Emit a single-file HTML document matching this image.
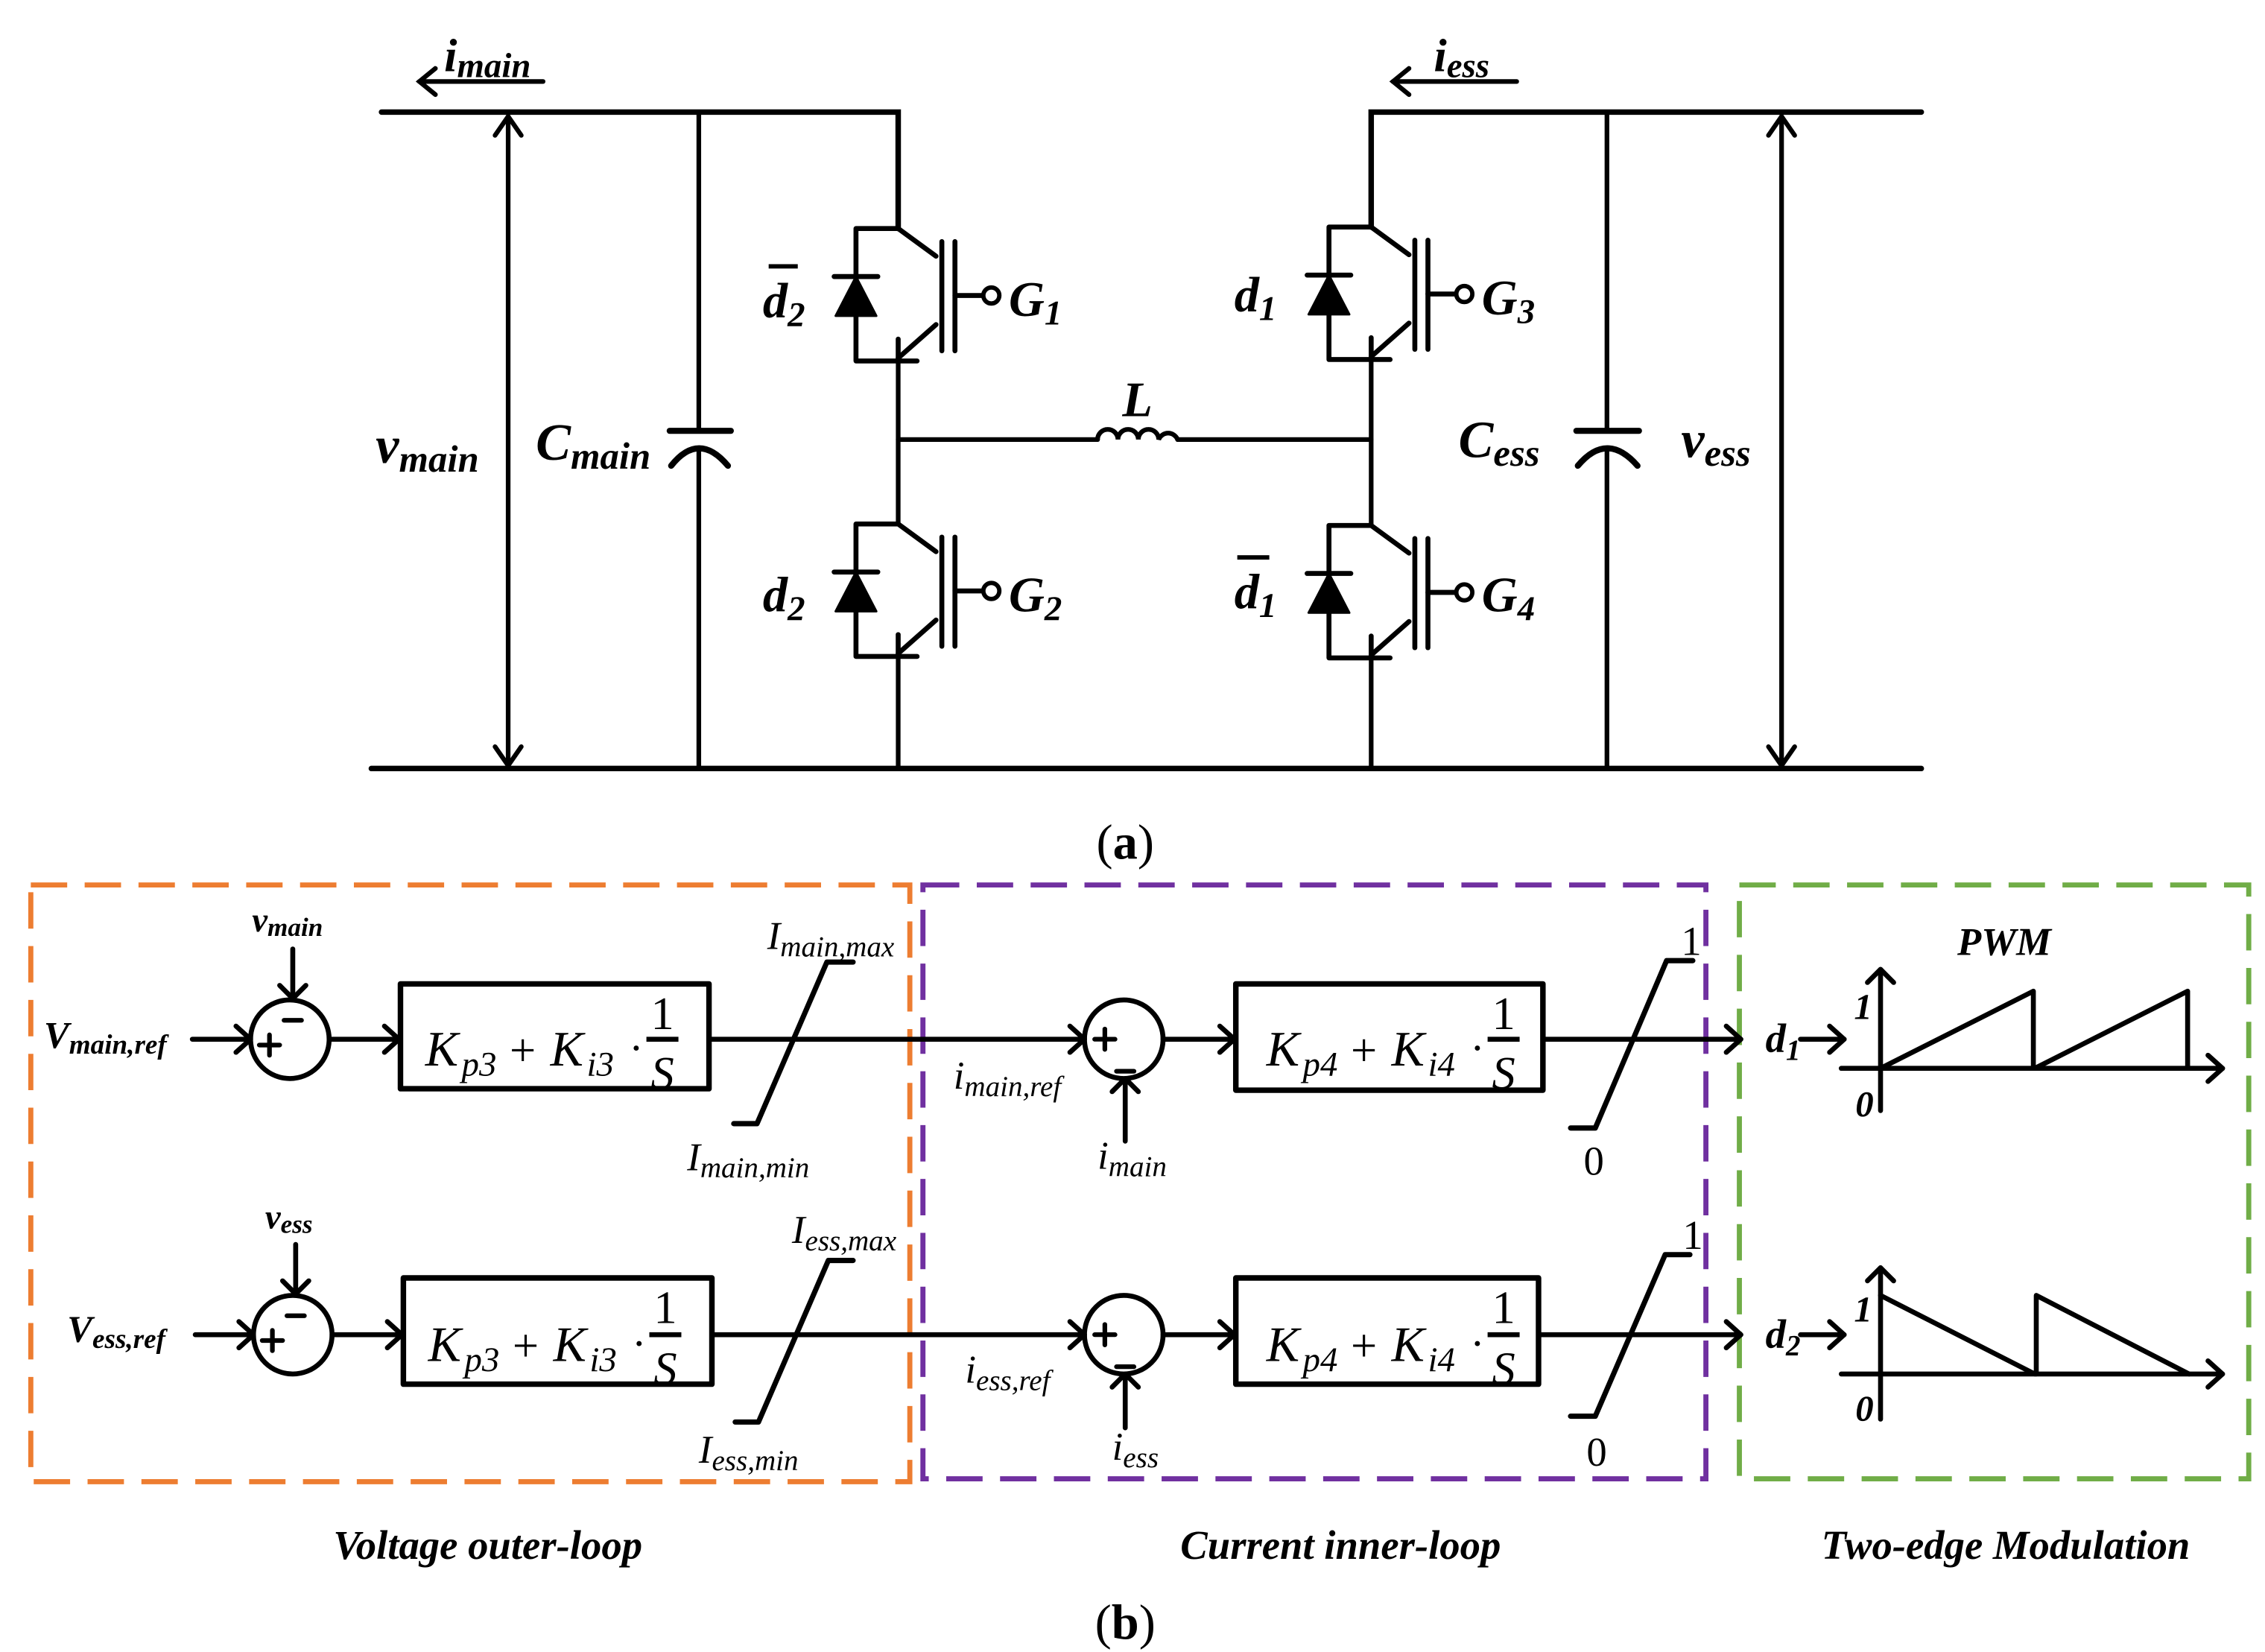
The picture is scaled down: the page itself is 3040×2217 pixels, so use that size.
<!DOCTYPE html>
<html><head><meta charset="utf-8"><style>
html,body{margin:0;padding:0;background:#fff;}
svg{display:block;}
text{font-family:"Liberation Serif",serif;fill:#000;}
.it{font-style:italic;font-weight:bold;}
.m{font-style:italic;}
</style></head><body>
<svg width="3040" height="2217" viewBox="0 0 1556 1135" xmlns="http://www.w3.org/2000/svg">
<defs>
<g id="igbt" fill="none" stroke="#000" stroke-width="3.4" stroke-linecap="round" stroke-linejoin="round">
  <path d="M0,0 L-29,0 L-29,91 L13,91"/>
  <path d="M0,0 L26,19"/>
  <path d="M26,66 L0,89"/>
  <path d="M0,76 L0,91"/>
  <path d="M30,9 L30,84"/>
  <path d="M39,9 L39,84"/>
  <path d="M39,46 L58,46"/>
  <circle cx="64" cy="46" r="5.5" stroke-width="3"/>
  <path d="M-44,33 L-14,33"/>
  <path d="M-29,33 L-43,60 L-15,60 Z" fill="#000" stroke-width="1.5"/>
</g>
<g id="kblk3" class="m">
  <text x="0" y="0" font-size="34">K</text>
  <text x="25" y="7" font-size="24">p3</text>
  <text x="58" y="0" font-size="32" font-style="normal">+</text>
  <text x="86" y="0" font-size="34">K</text>
  <text x="111" y="7" font-size="24">i3</text>
  <text x="140" y="-2" font-size="30" font-style="normal">·</text>
</g>
<g id="kblk4" class="m">
  <text x="0" y="0" font-size="34">K</text>
  <text x="25" y="7" font-size="24">p4</text>
  <text x="58" y="0" font-size="32" font-style="normal">+</text>
  <text x="86" y="0" font-size="34">K</text>
  <text x="111" y="7" font-size="24">i4</text>
  <text x="140" y="-2" font-size="30" font-style="normal">·</text>
</g>
</defs>

<!-- ===== (a) circuit ===== -->
<g fill="none" stroke="#000" stroke-width="3.8" stroke-linecap="round">
  <path d="M262,77 L617,77 L617,157"/>
  <path d="M942,156 L942,77 L1320,77"/>
  <path d="M255,528 L1320,528"/>
</g>
<g fill="none" stroke="#000" stroke-width="3.2" stroke-linecap="round">
  <path d="M617,248 L617,360"/>
  <path d="M617,451 L617,528"/>
  <path d="M942,247 L942,361"/>
  <path d="M942,452 L942,528"/>
  <path d="M617,302 L754,302"/>
  <path d="M754,302 a7,7 0 0 1 14,0 a7,7 0 0 1 14,0 a7,7 0 0 1 14,0 a7,7 0 0 1 13,0"/>
  <path d="M809,302 L942,302"/>
  <path d="M480,77 L480,296"/>
  <path d="M460,296 L502,296" stroke-width="4.2"/>
  <path d="M461,320 Q480,296 500,320" stroke-width="4.2"/>
  <path d="M480,309 L480,528"/>
  <path d="M1104,77 L1104,296"/>
  <path d="M1083,296 L1126,296" stroke-width="4.2"/>
  <path d="M1084,320 Q1104,296 1125,320" stroke-width="4.2"/>
  <path d="M1104,309 L1104,528"/>
  <path d="M349,80 L349,526"/>
  <path d="M340,93 L349,80 L358,93"/>
  <path d="M340,513 L349,526 L358,513"/>
  <path d="M1224,80 L1224,526"/>
  <path d="M1215,93 L1224,80 L1233,93"/>
  <path d="M1215,513 L1224,526 L1233,513"/>
  <path d="M288,56 L373,56"/>
  <path d="M299,47 L288,56 L299,65"/>
  <path d="M957,56 L1042,56"/>
  <path d="M968,47 L957,56 L968,65"/>
</g>
<use href="#igbt" x="617" y="157"/>
<use href="#igbt" x="617" y="360"/>
<use href="#igbt" x="942" y="156"/>
<use href="#igbt" x="942" y="361"/>

<g class="it">
  <text x="305" y="49" font-size="32">i<tspan font-size="24" dy="4">main</tspan></text>
  <text x="985" y="49" font-size="32">i<tspan font-size="24" dy="4">ess</tspan></text>
  <text x="258" y="318" font-size="36">v<tspan font-size="26" dy="6">main</tspan></text>
  <text x="368" y="316" font-size="36">C<tspan font-size="26" dy="6">main</tspan></text>
  <text x="1002" y="314" font-size="36">C<tspan font-size="26" dy="6">ess</tspan></text>
  <text x="1155" y="314" font-size="36">v<tspan font-size="26" dy="6">ess</tspan></text>
  <text x="771" y="286" font-size="34">L</text>
  <text x="524" y="218" font-size="34">d<tspan font-size="24" dy="6">2</tspan></text>
  <text x="524" y="420" font-size="34">d<tspan font-size="24" dy="6">2</tspan></text>
  <text x="848" y="214" font-size="34">d<tspan font-size="24" dy="6">1</tspan></text>
  <text x="848" y="418" font-size="34">d<tspan font-size="24" dy="6">1</tspan></text>
  <text x="693" y="217" font-size="34">G<tspan font-size="24" dy="6">1</tspan></text>
  <text x="693" y="420" font-size="34">G<tspan font-size="24" dy="6">2</tspan></text>
  <text x="1018" y="216" font-size="34">G<tspan font-size="24" dy="6">3</tspan></text>
  <text x="1018" y="420" font-size="34">G<tspan font-size="24" dy="6">4</tspan></text>
</g>
<g stroke="#000" stroke-width="3">
  <path d="M528,183 L548,183"/>
  <path d="M850,383 L872,383"/>
</g>
<text x="773" y="590" font-size="34" text-anchor="middle">(<tspan font-weight="bold">a</tspan>)</text>

<!-- ===== (b) control ===== -->
<g fill="none" stroke-width="3.5" stroke-dasharray="25,12">
  <rect x="21" y="608" width="604" height="410" stroke="#ED7D31"/>
  <rect x="634" y="608" width="538" height="408" stroke="#7030A0"/>
  <rect x="1195" y="608" width="350" height="408" stroke="#70AD47"/>
</g>

<g fill="none" stroke="#000" stroke-width="3.4" stroke-linecap="round" stroke-linejoin="round">
  <path d="M132,714 L172,714"/><path d="M162,705 L172,714 L162,723"/>
  <circle cx="199" cy="714" r="27"/>
  <path d="M201,652 L201,686"/><path d="M192,677 L201,686 L210,677"/>
  <path d="M226,714 L274,714"/><path d="M264,705 L274,714 L264,723"/>
  <rect x="275" y="676" width="212" height="72" stroke-width="3.8"/>
  <path d="M487,714 L745,714"/><path d="M735,705 L745,714 L735,723"/>
  <path d="M504,772 L520,772 L568,661 L586,661" stroke-width="3.6"/>
  <circle cx="772" cy="714" r="27"/>
  <path d="M773,784 L773,741"/><path d="M764,750 L773,741 L782,750"/>
  <path d="M799,714 L848,714"/><path d="M838,705 L848,714 L838,723"/>
  <rect x="849" y="676" width="211" height="73" stroke-width="3.8"/>
  <path d="M1060,714 L1196,714"/><path d="M1186,705 L1196,714 L1186,723"/>
  <path d="M1079,775 L1096,775 L1145,660 L1163,660" stroke-width="3.6"/>
  <path d="M134,917 L174,917"/><path d="M164,908 L174,917 L164,926"/>
  <circle cx="201" cy="917" r="27"/>
  <path d="M203,855 L203,889"/><path d="M194,880 L203,889 L212,880"/>
  <path d="M228,917 L276,917"/><path d="M266,908 L276,917 L266,926"/>
  <rect x="277" y="878" width="212" height="73" stroke-width="3.8"/>
  <path d="M489,917 L745,917"/><path d="M735,908 L745,917 L735,926"/>
  <path d="M505,977 L521,977 L569,866 L586,866" stroke-width="3.6"/>
  <circle cx="772" cy="917" r="27"/>
  <path d="M773,981 L773,944"/><path d="M764,953 L773,944 L782,953"/>
  <path d="M799,917 L848,917"/><path d="M838,908 L848,917 L838,926"/>
  <rect x="849" y="878" width="208" height="73" stroke-width="3.8"/>
  <path d="M1057,917 L1196,917"/><path d="M1186,908 L1196,917 L1186,926"/>
  <path d="M1079,973 L1096,973 L1144,862 L1161,862" stroke-width="3.6"/>
  <path d="M1237,714 L1267,714"/><path d="M1257,705 L1267,714 L1257,723"/>
  <path d="M1292,763 L1292,666"/><path d="M1283,675 L1292,666 L1301,675"/>
  <path d="M1265,734 L1527,734"/><path d="M1517,725 L1527,734 L1517,743"/>
  <path d="M1292,734 L1397,681 L1397,734"/>
  <path d="M1398,734 L1503,681 L1503,734"/>
  <path d="M1237,917 L1267,917"/><path d="M1257,908 L1267,917 L1257,926"/>
  <path d="M1292,975 L1292,871"/><path d="M1283,880 L1292,871 L1301,880"/>
  <path d="M1265,944 L1527,944"/><path d="M1517,935 L1527,944 L1517,953"/>
  <path d="M1292,890 L1398,944"/>
  <path d="M1399,944 L1399,890 L1504,944"/>
</g>
<g stroke="#000" stroke-width="3.2" stroke-linecap="round">
  <path d="M178,718 L192,718 M185,711 L185,725"/><path d="M195,701 L207,701"/>
  <path d="M180,921 L194,921 M187,914 L187,928"/><path d="M197,904 L209,904"/>
  <path d="M752,714 L766,714 M759,707 L759,721"/><path d="M767,736 L779,736"/>
  <path d="M752,917 L766,917 M759,910 L759,924"/><path d="M767,939 L779,939"/>
</g>

<use href="#kblk3" x="292" y="732"/>
<use href="#kblk3" x="294" y="935"/>
<use href="#kblk4" x="870" y="732"/>
<use href="#kblk4" x="870" y="935"/>
<g font-size="32" text-anchor="middle">
  <text x="455" y="707">1</text><text x="455" y="748" font-style="italic">S</text>
  <text x="457" y="909">1</text><text x="457" y="951" font-style="italic">S</text>
  <text x="1033" y="707">1</text><text x="1033" y="748" font-style="italic">S</text>
  <text x="1033" y="909">1</text><text x="1033" y="951" font-style="italic">S</text>
</g>
<g stroke="#000" stroke-width="3.4">
  <path d="M444,714 L466,714"/><path d="M446,917 L468,917"/>
  <path d="M1022,714 L1044,714"/><path d="M1022,917 L1044,917"/>
</g>

<g class="it">
  <text x="30" y="720" font-size="26">V<tspan font-size="19" dy="4">main,ref</tspan></text>
  <text x="46" y="922" font-size="26">V<tspan font-size="19" dy="4">ess,ref</tspan></text>
  <text x="173" y="640" font-size="24">v<tspan font-size="18" dy="3">main</tspan></text>
  <text x="182" y="844" font-size="24">v<tspan font-size="18" dy="3">ess</tspan></text>
</g>
<g class="m">
  <text x="527" y="652" font-size="27">I<tspan font-size="20" dy="5">main,max</tspan></text>
  <text x="472" y="804" font-size="27">I<tspan font-size="20" dy="5">main,min</tspan></text>
  <text x="544" y="854" font-size="27">I<tspan font-size="20" dy="5">ess,max</tspan></text>
  <text x="480" y="1005" font-size="27">I<tspan font-size="20" dy="5">ess,min</tspan></text>
  <text x="655" y="748" font-size="27">i<tspan font-size="20" dy="5">main,ref</tspan></text>
  <text x="663" y="950" font-size="27">i<tspan font-size="20" dy="5">ess,ref</tspan></text>
  <text x="754" y="803" font-size="27">i<tspan font-size="20" dy="5">main</tspan></text>
  <text x="764" y="1003" font-size="27">i<tspan font-size="20" dy="5">ess</tspan></text>
</g>
<g font-size="28" text-anchor="middle">
  <text x="1162" y="656">1</text><text x="1095" y="807">0</text>
  <text x="1163" y="858">1</text><text x="1097" y="1007">0</text>
</g>
<g class="it">
  <text x="1213" y="723" font-size="28">d<tspan font-size="20" dy="5">1</tspan></text>
  <text x="1213" y="926" font-size="28">d<tspan font-size="20" dy="5">2</tspan></text>
  <text x="1377" y="656" font-size="27" text-anchor="middle">PWM</text>
  <text x="1280" y="700" font-size="25" text-anchor="middle">1</text>
  <text x="1281" y="767" font-size="25" text-anchor="middle">0</text>
  <text x="1280" y="908" font-size="25" text-anchor="middle">1</text>
  <text x="1281" y="976" font-size="25" text-anchor="middle">0</text>
</g>
<g class="it" font-size="28" text-anchor="middle">
  <text x="335" y="1071">Voltage outer-loop</text>
  <text x="921" y="1071">Current inner-loop</text>
  <text x="1378" y="1071">Two-edge Modulation</text>
</g>
<text x="773" y="1126" font-size="34" text-anchor="middle">(<tspan font-weight="bold">b</tspan>)</text>
</svg>
</body></html>
